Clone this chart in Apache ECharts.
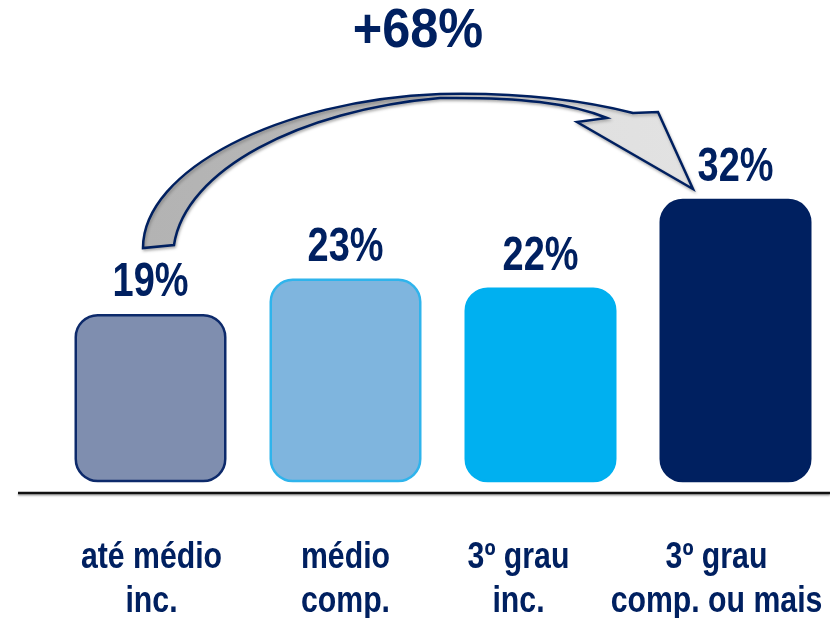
<!DOCTYPE html>
<html>
<head>
<meta charset="utf-8">
<script src="https://cdn.jsdelivr.net/npm/echarts@6/dist/echarts.min.js"></script>
<style>html,body{margin:0;padding:0;background:#fff}#c{width:830px;height:618px}</style>
</head>
<body>
<div id="c"></div>
<script>
const categories = ['até médio\ninc.', 'médio\ncomp.', '3º grau\ninc.', '3º grau\ncomp. ou mais'];
const values = [19, 23, 22, 32];
const growthLabel = '+68%';

const fills = ['#7f8eaf', '#7fb5de', '#00b0f0', '#002060'];
const borders = ['#0d2a6b', '#2fb4ec', '#00b0f0', '#002060'];
const labelShift = [1, 0, -22, -19];
const NAVY = '#002060';
const FONT = '"Liberation Sans", Arial, sans-serif';
const ARROW_PATH = 'M143,248 C143,170 280,100 440,94 C530,92 590,102 633,113 L658,112 L693,189 L577,122 L607,118 C570,103 520,97 440,98 C300,110 185,170 174,245 Z';

const chart = echarts.init(document.getElementById('c'));
chart.setOption({
  animation: false,
  grid: { left: 53, width: 780, top: 128, bottom: 125, containLabel: false, outerBoundsMode: 'none' },
  xAxis: {
    type: 'category',
    data: categories,
    axisLine: { show: false },
    axisTick: { show: false },
    axisLabel: { show: false }
  },
  yAxis: {
    type: 'value', min: -1.2, max: 40, show: false,
    splitLine: { show: false }
  },
  series: [{
    type: 'bar',
    barWidth: 152,
    data: values.map(function (v, i) {
      return {
        value: v,
        itemStyle: { color: fills[i], borderColor: borders[i], borderWidth: 2.5, borderRadius: 22 }
      };
    })
  }, {
    type: 'custom',
    silent: true,
    z: 6,
    data: values.map(function (v, i) { return [i, v]; }),
    renderItem: function (params, api) {
      const i = api.value(0);
      const top = api.coord([i, api.value(1)]);
      return {
        type: 'group',
        children: [{
          type: 'text',
          x: top[0], y: top[1] - 7,
          scaleX: 0.79,
          style: {
            text: api.value(1) + '%',
            fill: NAVY, fontFamily: FONT, fontWeight: 'bold', fontSize: 48,
            align: 'center', verticalAlign: 'bottom'
          }
        }, {
          type: 'text',
          x: top[0] + labelShift[i], y: 536,
          scaleX: 0.84,
          style: {
            text: categories[i],
            fill: NAVY, fontFamily: FONT, fontWeight: 'bold', fontSize: 36, lineHeight: 44,
            align: 'center', verticalAlign: 'top'
          }
        }]
      };
    }
  }, {
    type: 'custom',
    coordinateSystem: 'none',
    silent: true,
    z: 5,
    data: [0],
    renderItem: function () {
      return {
        type: 'path',
        shape: { pathData: ARROW_PATH },
        style: {
          fill: {
            type: 'linear', x: 0, y: 0, x2: 1, y2: 0,
            colorStops: [
              { offset: 0, color: '#b3b3b3' },
              { offset: 0.5, color: '#b8b8b8' },
              { offset: 0.56, color: '#dedede' },
              { offset: 1, color: '#e2e2e2' }
            ]
          },
          stroke: NAVY, lineWidth: 2.5,
          shadowColor: 'rgba(0,0,0,0.25)', shadowBlur: 3, shadowOffsetX: 1, shadowOffsetY: 2
        }
      };
    }
  }],
  graphic: [
    {
      type: 'line', z: 10,
      shape: { x1: 18, y1: 493, x2: 830, y2: 493 },
      style: { stroke: '#111', lineWidth: 2.5, shadowColor: 'rgba(0,0,0,0.35)', shadowBlur: 2, shadowOffsetY: 1.5 }
    },
    {
      type: 'text', z: 10,
      x: 418, y: 4, scaleX: 0.9,
      style: {
        text: growthLabel,
        fill: NAVY, fontFamily: FONT, fontWeight: 'bold', fontSize: 56,
        align: 'center', verticalAlign: 'top',
        shadowColor: 'rgba(0,0,0,0.4)', shadowBlur: 5, shadowOffsetX: 3, shadowOffsetY: 4
      }
    }
  ]
});
</script>
</body>
</html>
